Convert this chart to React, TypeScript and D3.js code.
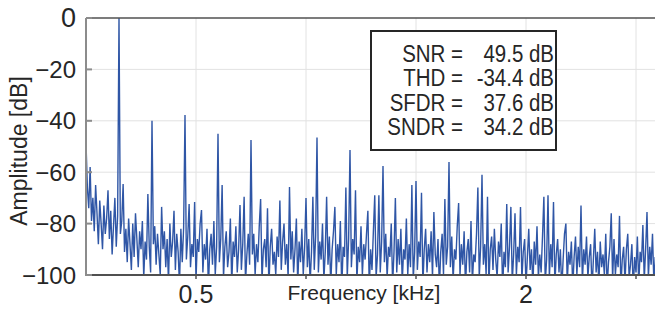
import React from "react";
import * as d3 from "d3";

const WIDTH = 655;
const HEIGHT = 313;
const PLOT = { left: 86, right: 655, top: 18, bottom: 275 };

// spectrum bin width in kHz (fundamental sits on bin 24)
const BIN_KHZ = 0.00625;

// amplitude per bin [dB], 24 bins per row (one harmonic spacing)
const amplitudeDb = [
  -48.6, -66, -74, -58, -79, -70, -83, -65, -76, -88, -71, -80, -90, -73, -84, -78, -67, -86, -75, -92, -81, -70, -89, -77,
  0, -84, -79, -64.6, -91, -82, -95, -78, -88, -98, -80, -93, -76, -86, -97, -83, -90, -79, -101, -87, -94, -68.5, -89, -99,
  -40, -88, -81, -96, -84, -92, -100, -73.5, -90, -83, -97, -86, -103, -80, -93, -87, -75, -98, -84, -91, -104, -82, -95, -81.7,
  -37.7, -94, -85, -72.4, -97, -88, -93, -71.6, -102, -86, -91, -80, -74.7, -99, -88, -94, -82, -105, -90, -84, -96, -79, -100, -89,
  -45, -95, -86, -65, -101, -89, -83, -97, -91, -78, -104, -87, -93, -81, -99, -90, -72.8, -98, -88, -69.6, -103, -92, -84, -96,
  -47.5, -92, -84, -100, -88, -95, -81, -70.4, -102, -90, -86, -97, -74, -105, -89, -82, -96, -91, -100, -85, -93, -71, -98, -87,
  -80, -96, -88, -101, -65.8, -94, -83, -99, -90, -78, -104, -87, -95, -82, -100, -89, -70, -97, -86, -103, -91, -69.6, -98, -85,
  -46.5, -99, -87, -94, -80, -102, -91, -69.6, -96, -85, -104, -90, -83, -73.5, -100, -88, -95, -79, -106, -89, -93, -66, -101, -86,
  -51.4, -97, -86, -92, -67, -103, -89, -95, -81, -100, -88, -94, -84, -75, -105, -90, -98, -83, -69, -101, -92, -69, -99, -87,
  -57.6, -95, -84, -101, -89, -93, -80, -104, -91, -70, -99, -86, -96, -82, -103, -90, -94, -78, -100, -88, -97, -65, -102, -91,
  -63.4, -98, -87, -93, -68, -104, -90, -82, -99, -88, -95, -83, -101, -75.5, -92, -97, -86, -105, -91, -84, -100, -70.4, -96, -89,
  -56, -97, -85, -102, -90, -94, -81, -72, -100, -88, -96, -83, -105, -91, -86, -99, -79, -103, -92, -95, -84, -66, -101, -89,
  -61, -96, -88, -100, -69.6, -104, -90, -85, -98, -82, -94, -101, -87, -93, -80, -106, -91, -97, -72.4, -99, -89, -73.5, -103, -92,
  -76, -100, -89, -95, -73.5, -102, -91, -86, -104, -93, -82, -98, -90, -105, -87, -96, -81, -101, -92, -99, -85, -69.6, -103, -94,
  -69, -101, -88, -97, -71.6, -104, -92, -86, -99, -90, -106, -94, -84, -80, -103, -91, -96, -87, -105, -93, -85, -100, -89, -97,
  -73, -103, -90, -96, -85, -101, -93, -88, -106, -94, -82, -99, -91, -104, -87, -97, -92, -100, -84, -105, -95, -89, -76, -102,
  -86, -100, -92, -97, -77, -105, -94, -89, -103, -90, -84, -101, -96, -88, -106, -93, -99, -85, -104, -91, -95, -80.6, -102, -90,
  -75.5, -101, -89, -96, -84, -103, -93,
];

const xTicks = [0.5, 1, 1.5, 2, 2.5];
const xTickLabels = ["0.5", "", "", "2", ""];
const yTicks = [-100, -80, -60, -40, -20, 0];

const metricNames = ["SNR =", "THD =", "SFDR =", "SNDR ="];
const metricValues = ["49.5 dB", "-34.4 dB", "37.6 dB", "34.2 dB"];

const FONT = "'Liberation Sans', Arial, Helvetica, sans-serif";

export default function App() {
  const xScale = d3
    .scaleLinear()
    .domain([0, (amplitudeDb.length - 1) * BIN_KHZ])
    .range([PLOT.left, PLOT.left + (amplitudeDb.length - 1) * BIN_KHZ * 220]);
  const yScale = d3.scaleLinear().domain([-100, 0]).range([PLOT.bottom, PLOT.top]);

  const line = d3
    .line<number>()
    .x((_, i) => xScale(i * BIN_KHZ))
    .y((d) => yScale(d));

  const fmtY = (v: number) => (v < 0 ? "\u2212" + Math.abs(v) : String(v));

  return (
    <svg
      width={WIDTH}
      height={HEIGHT}
      style={{ position: "absolute", left: 0, top: 0, background: "#fff" }}
    >
      <defs>
        <clipPath id="plotClip">
          <rect x={PLOT.left} y={PLOT.top} width={PLOT.right - PLOT.left} height={PLOT.bottom - PLOT.top} />
        </clipPath>
      </defs>

      {/* grid */}
      {xTicks.map((t, i) => (
        <line key={"gx" + i} x1={xScale(t)} x2={xScale(t)} y1={PLOT.top} y2={PLOT.bottom} stroke="#e2e2e2" />
      ))}
      {yTicks.slice(1, -1).map((t, i) => (
        <line key={"gy" + i} x1={PLOT.left} x2={PLOT.right} y1={yScale(t)} y2={yScale(t)} stroke="#e2e2e2" />
      ))}

      {/* spectrum */}
      <path
        d={line(amplitudeDb) || ""}
        fill="none"
        stroke="#2f56a6"
        strokeWidth={1.4}
        clipPath="url(#plotClip)"
      />

      {/* axes */}
      <line x1={PLOT.left} x2={PLOT.right} y1={PLOT.top} y2={PLOT.top} stroke="#505050" strokeWidth={1.5} />
      <line x1={PLOT.left} x2={PLOT.right} y1={PLOT.bottom} y2={PLOT.bottom} stroke="#505050" strokeWidth={2} />
      <line x1={PLOT.left} x2={PLOT.left} y1={PLOT.top} y2={PLOT.bottom + 1} stroke="#8c8c8c" strokeWidth={2} />
      {yTicks.map((t, i) => (
        <g key={"yt" + i}>
          <line x1={PLOT.left} x2={PLOT.left + 6} y1={yScale(t)} y2={yScale(t)} stroke="#8c8c8c" strokeWidth={2} />
          <text
            x={76}
            y={yScale(t)}
            textAnchor="end"
            dominantBaseline="central"
            fontFamily={FONT}
            fontSize={t === 0 ? 27 : 24}
            fill="#262626"
          >
            {fmtY(t)}
          </text>
        </g>
      ))}
      {xTicks.map((t, i) => (
        <g key={"xt" + i}>
          <line x1={xScale(t)} x2={xScale(t)} y1={PLOT.bottom} y2={PLOT.bottom + 4} stroke="#505050" strokeWidth={1.5} />
          <text x={xScale(t)} y={303} textAnchor="middle" fontFamily={FONT} fontSize={25} fill="#262626">
            {xTickLabels[i]}
          </text>
        </g>
      ))}

      <text x={364} y={300} textAnchor="middle" fontFamily={FONT} fontSize={21} fill="#262626">
        Frequency [kHz]
      </text>
      <text
        transform="translate(27,151) rotate(-90)"
        textAnchor="middle"
        fontFamily={FONT}
        fontSize={23}
        fill="#262626"
      >
        Amplitude [dB]
      </text>

      {/* metrics box */}
      <rect x={371} y={31} width={185} height={119} fill="#fff" stroke="#262626" strokeWidth={2} />
      {metricNames.map((name, i) => (
        <g key={"m" + i} fontFamily={FONT} fontSize={23} fill="#262626">
          <text transform={`translate(463,${62 + i * 24.3}) scale(0.89,1)`} textAnchor="end">
            {name}
          </text>
          <text transform={`translate(554,${62 + i * 24.3}) scale(0.89,1)`} textAnchor="end">
            {metricValues[i]}
          </text>
        </g>
      ))}
    </svg>
  );
}
